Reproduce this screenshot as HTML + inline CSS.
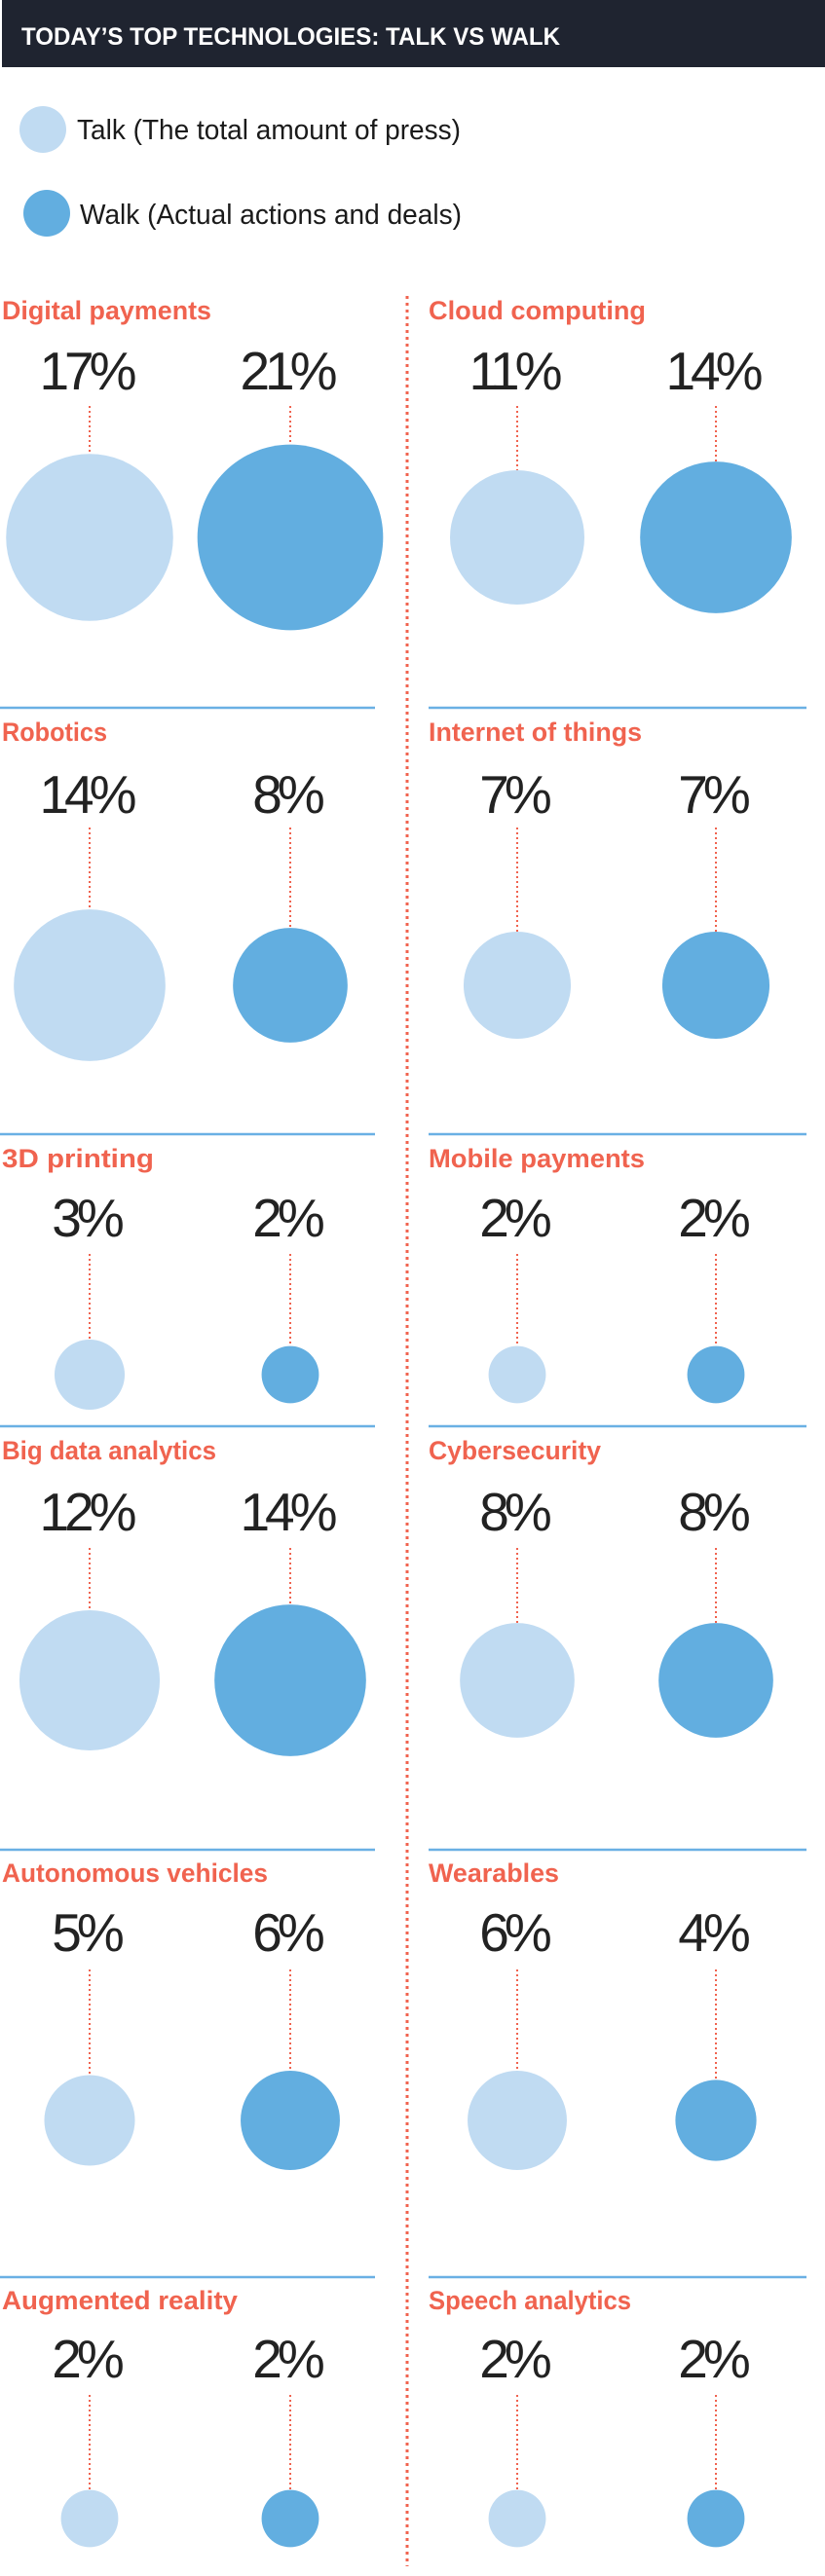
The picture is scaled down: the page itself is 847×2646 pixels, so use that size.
<!DOCTYPE html>
<html><head><meta charset="utf-8"><title>Today's top technologies: talk vs walk</title>
<style>
html,body{margin:0;padding:0;background:#fff;}
svg{display:block;}
text{font-family:"Liberation Sans",sans-serif;}
</style></head>
<body>
<svg id="chart" width="847" height="2646" viewBox="0 0 847 2646" xmlns="http://www.w3.org/2000/svg">
  <rect x="2" y="0" width="845" height="69" fill="#1f2430"/>
  <text x="22" y="46" fill="#ffffff" font-size="25" font-weight="bold" textLength="553" lengthAdjust="spacingAndGlyphs">TODAY’S TOP TECHNOLOGIES: TALK VS WALK</text>
  <g>
    <circle cx="44" cy="133" r="24" fill="#c0dbf2"/>
    <text x="79" y="143" font-size="29" fill="#1a1a1a" textLength="394" lengthAdjust="spacingAndGlyphs">Talk (The total amount of press)</text>
    <circle cx="48" cy="219" r="24" fill="#62aee0"/>
    <text x="82" y="230" font-size="29" fill="#1a1a1a" textLength="392" lengthAdjust="spacingAndGlyphs">Walk (Actual actions and deals)</text>
  </g>
  <line x1="418" y1="304" x2="418" y2="2636" stroke="#f0634f" stroke-width="3" stroke-dasharray="3 4"/>
  <g id="panels"></g>
</svg>
<script>
const categories = ["Digital payments","Cloud computing","Robotics","Internet of things","3D printing","Mobile payments","Big data analytics","Cybersecurity","Autonomous vehicles","Wearables","Augmented reality","Speech analytics"];
const talkValues = [17,11,14,7,3,2,12,8,5,6,2,2];
const walkValues = [21,14,8,7,2,2,14,8,6,4,2,2];
const titleWidths = [215,223,108,219,156,222,220,177,273,134,242,208];

// layout
const rowTitleY = [328,761,1199,1499,1933,2372];
const rowLabelY = [400,835,1270,1572,2004,2442];
const rowLeaderY = [417,850,1288,1590,2023,2460];
const rowCircleY = [552,1012,1412,1726,2178,2587];
const rowLineY = [null,727,1165,1465,1900,2339];
const colTitleX = [2,440];
const colTalkX = [92,531];
const colWalkX = [298,735];
const colLineX = [[0,385],[440,828]];

function rScale(v){ return 20.8*Math.sqrt(v); }

const NS = "http://www.w3.org/2000/svg";
const root = document.getElementById("panels");
function mk(tag, attrs, parent){
  const e = document.createElementNS(NS, tag);
  for (const k in attrs) e.setAttribute(k, attrs[k]);
  parent.appendChild(e);
  return e;
}
function slug(s){ return s.toLowerCase().replace(/[^a-z0-9]+/g,'-'); }

categories.forEach((name, i) => {
  const row = Math.floor(i/2), col = i%2;
  const g = mk("g", {}, root);
  
  
  if (rowLineY[row] !== null) {
    const ln = mk("line", {x1: colLineX[col][0], x2: colLineX[col][1], y1: rowLineY[row], y2: rowLineY[row], stroke: "#6ab0e4", "stroke-width": 2.5}, g);
    
    
  }
  const t = mk("text", {x: colTitleX[col], y: rowTitleY[row], fill: "#f0634f", "font-size": 27, "font-weight": "bold", textLength: titleWidths[i], lengthAdjust: "spacingAndGlyphs"}, g);
  t.textContent = name;
  
  

  const series = [["talk", talkValues[i], colTalkX[col], "#c0dbf2"], ["walk", walkValues[i], colWalkX[col], "#62aee0"]];
  series.forEach(([kind, v, cx, color]) => {
    const r = rScale(v);
    const cy = rowCircleY[row];
    const lab = mk("text", {x: cx - 4, y: rowLabelY[row], "text-anchor": "middle", fill: "#222", "font-size": 55, "font-weight": 300, "letter-spacing": -5}, g);
    lab.textContent = v + "%";
    
    
    const ld = mk("line", {x1: cx, x2: cx, y1: rowLeaderY[row], y2: cy - r, stroke: "#f0634f", "stroke-width": 2, "stroke-dasharray": "2 3"}, g);
    
    
    const c = mk("circle", {cx: cx, cy: cy, r: r, fill: color}, g);
    
    
  });
});
</script>
</body></html>
